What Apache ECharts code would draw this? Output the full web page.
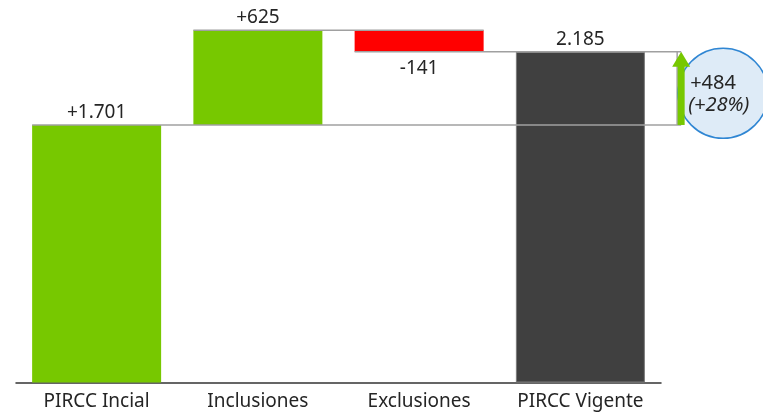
<!DOCTYPE html>
<html>
<head>
<meta charset="utf-8">
<script src="https://cdn.jsdelivr.net/npm/echarts@6/dist/echarts.min.js"></script>
<style>html,body{margin:0;padding:0;background:#fff;}#c{width:763px;height:412px;}</style>
</head>
<body>
<div id="c"></div>
<script>
const categories = ["PIRCC Incial", "Inclusiones", "Exclusiones", "PIRCC Vigente"];
const startValue = 1701;
const changes = [625, -141];
const endValue = 2185;
const valueLabels = ["+1.701", "+625", "-141", "2.185"];
const deltaLabel = "+484";
const deltaPctLabel = "(+28%)";

const GREEN = "#77c800", RED = "#ff0000", DARK = "#404040";
const FONT = "'Noto Sans', 'Open Sans', sans-serif";
const TXT = "#252525";

// build waterfall stacks from the data
const baseVals = [0];
const barVals = [startValue];
const barColors = [GREEN];
let run = startValue;
changes.forEach(c => {
  baseVals.push(c >= 0 ? run : run + c);
  barVals.push(Math.abs(c));
  barColors.push(c >= 0 ? GREEN : RED);
  run += c;
});
baseVals.push(0);
barVals.push(endValue);
barColors.push(DARK);

// running levels (tops) for connectors
const levels = [startValue];
let acc = startValue;
changes.forEach(c => { acc += c; levels.push(acc); });

const chart = echarts.init(document.getElementById('c'), null, {renderer: 'canvas'});

const visData = barVals.map((v, i) => {
  const neg = i > 0 && i <= changes.length && changes[i - 1] < 0;
  return {
    value: v,
    itemStyle: {
      color: barColors[i],
      borderColor: i === barVals.length - 1 ? '#7a7a7a' : barColors[i],
      borderWidth: i === barVals.length - 1 ? 1 : 0
    },
    label: {position: neg ? 'bottom' : 'top', distance: neg ? 7 : 3}
  };
});

chart.setOption({
  animation: false,
  grid: {left: 16, right: 102, top: 4, bottom: 29.5, containLabel: false},
  xAxis: {
    type: 'category',
    data: categories,
    axisLine: {show: true, lineStyle: {color: '#333', width: 1.5}},
    axisTick: {show: false},
    axisLabel: {color: TXT, fontFamily: FONT, fontSize: 19, margin: 10, interval: 0, hideOverlap: false},
    splitLine: {show: false}
  },
  yAxis: {
    type: 'value', min: 0, max: 2500,
    show: false, splitLine: {show: false}
  },
  series: [
    {
      type: 'bar', stack: 'w', data: baseVals, barCategoryGap: '20%',
      itemStyle: {color: 'rgba(0,0,0,0)'}, silent: true
    },
    {
      type: 'bar', stack: 'w', data: visData, barCategoryGap: '20%',
      label: {
        show: true, color: TXT, fontFamily: FONT, fontSize: 19,
        formatter: p => valueLabels[p.dataIndex]
      }
    },
    {
      type: 'custom',
      z: 5,
      clip: false,
      data: [0],
      renderItem: function (params, api) {
        const band = api.size([1, 0])[0];
        const half = band * 0.4;
        const X = i => api.coord([i, 0])[0];
        const Y = v => api.coord([0, v])[1];
        const last = categories.length - 1;
        const arrowX = X(last) + 0.625 * band;
        const lineStyle = {stroke: '#a0a0a0', lineWidth: 1.5};
        const children = [];
        children.push({type: 'line', shape: {x1: X(0) - half, y1: Y(startValue), x2: arrowX, y2: Y(startValue)}, style: lineStyle});
        for (let k = 1; k < levels.length; k++) {
          const yv = Y(levels[k]);
          const x1 = X(k) - half;
          const x2 = k === levels.length - 1 ? arrowX : X(k + 1) + half;
          children.push({type: 'line', shape: {x1: x1, y1: yv, x2: x2, y2: yv}, style: lineStyle});
        }
        const yTop = Y(endValue), yBot = Y(startValue);
        children.push({type: 'line', shape: {x1: arrowX - 4, y1: yTop, x2: arrowX - 4, y2: yBot}, style: lineStyle});
        const cx = X(last) + 0.885 * band;
        const cy = (yTop + yBot) / 2 + 5;
        children.push({type: 'circle', shape: {cx: cx, cy: cy, r: 45}, style: {fill: '#deebf7', stroke: '#2f86d3', lineWidth: 1.5}});
        children.push({type: 'rect', shape: {x: arrowX - 3.5, y: yTop + 14, width: 7, height: yBot - yTop - 14}, style: {fill: GREEN}});
        children.push({type: 'polygon', shape: {points: [[arrowX - 9, yTop + 15], [arrowX, yTop], [arrowX + 9, yTop + 15]]}, style: {fill: GREEN}});
        children.push({type: 'text', style: {text: deltaLabel, x: arrowX + 9, y: cy - 10, align: 'left', verticalAlign: 'middle', fill: TXT, font: "20px 'Noto Sans', sans-serif"}});
        children.push({type: 'text', style: {text: deltaPctLabel, x: arrowX + 7, y: cy + 12, align: 'left', verticalAlign: 'middle', fill: TXT, font: "italic 20px 'Noto Sans', sans-serif"}});
        return {type: 'group', children: children};
      }
    }
  ]
});
</script>
</body>
</html>
